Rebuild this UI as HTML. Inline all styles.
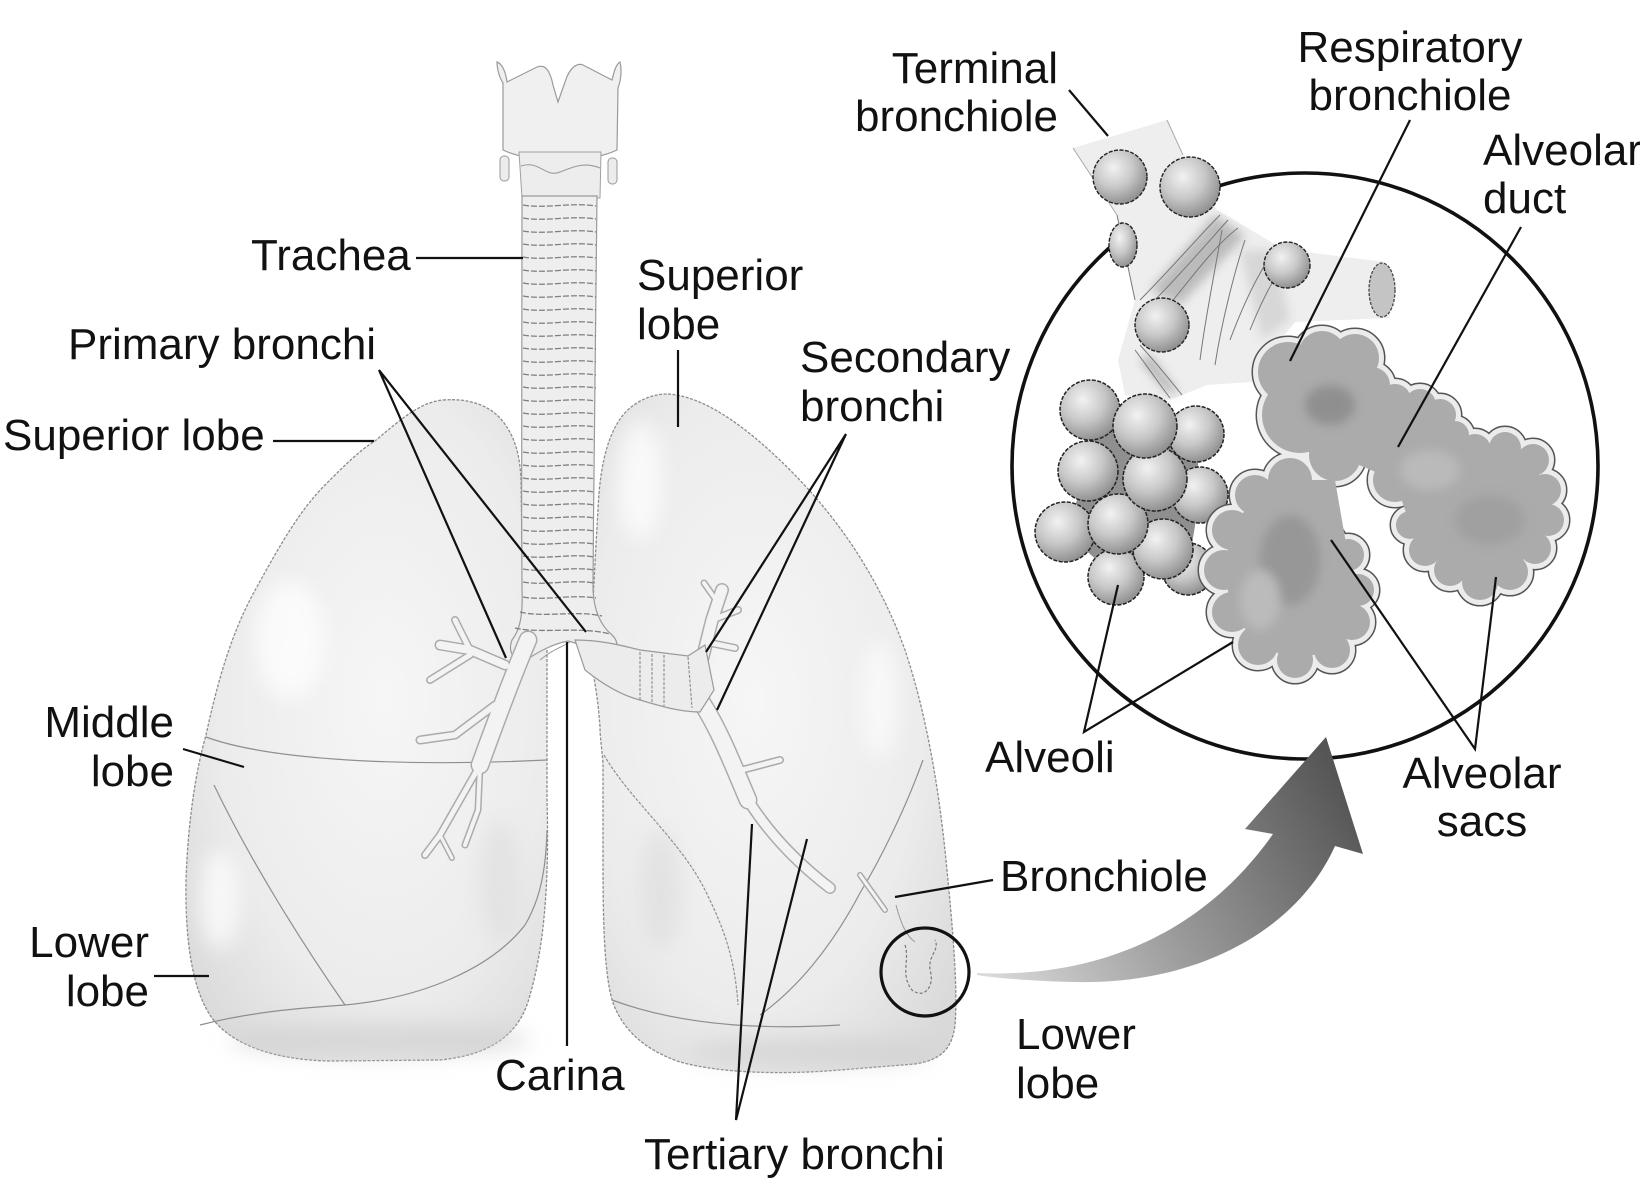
<!DOCTYPE html>
<html><head><meta charset="utf-8">
<style>
html,body{margin:0;padding:0;background:#fff;}
svg{display:block;}
text{font-family:"Liberation Sans",Arial,sans-serif;font-size:44px;fill:#111;}
</style></head><body>
<svg width="1640" height="1180" viewBox="0 0 1640 1180" xmlns="http://www.w3.org/2000/svg">
<defs>
 <radialGradient id="lungR" cx="0.55" cy="0.45" r="0.7">
  <stop offset="0" stop-color="#f6f6f6"/><stop offset="0.65" stop-color="#ececec"/><stop offset="1" stop-color="#d9d9d9"/>
 </radialGradient>
 <radialGradient id="lungL" cx="0.45" cy="0.45" r="0.7">
  <stop offset="0" stop-color="#f6f6f6"/><stop offset="0.65" stop-color="#ececec"/><stop offset="1" stop-color="#d9d9d9"/>
 </radialGradient>
 <radialGradient id="ball" cx="0.38" cy="0.33" r="0.72">
  <stop offset="0" stop-color="#f2f2f2"/><stop offset="0.5" stop-color="#c8c8c8"/><stop offset="1" stop-color="#8a8a8a"/>
 </radialGradient>
 <linearGradient id="arr" x1="977" y1="975" x2="1330" y2="760" gradientUnits="userSpaceOnUse">
  <stop offset="0" stop-color="#dcdcdc"/><stop offset="0.45" stop-color="#9c9c9c"/><stop offset="1" stop-color="#555"/>
 </linearGradient>
 <filter id="blur" x="-50%" y="-50%" width="200%" height="200%"><feGaussianBlur stdDeviation="10"/></filter>
 <filter id="blur2" x="-50%" y="-50%" width="200%" height="200%"><feGaussianBlur stdDeviation="5"/></filter>
 <g id="sac">
  <circle cx="1288" cy="372" r="30"/><circle cx="1322" cy="355" r="24"/><circle cx="1355" cy="358" r="24"/>
  <circle cx="1372" cy="385" r="18"/><circle cx="1300" cy="415" r="38"/><circle cx="1345" cy="420" r="32"/>
  <circle cx="1395" cy="400" r="16"/><circle cx="1420" cy="405" r="16"/><circle cx="1440" cy="415" r="16"/>
  <circle cx="1455" cy="435" r="14"/>
  <circle cx="1395" cy="440" r="30"/><circle cx="1430" cy="455" r="28"/><circle cx="1335" cy="455" r="26"/>
  <circle cx="1475" cy="450" r="16"/><circle cx="1505" cy="448" r="16"/><circle cx="1533" cy="460" r="16"/>
  <circle cx="1545" cy="490" r="16"/><circle cx="1548" cy="520" r="16"/><circle cx="1535" cy="548" r="16"/>
  <circle cx="1510" cy="572" r="18"/><circle cx="1480" cy="582" r="18"/><circle cx="1450" cy="570" r="16"/>
  <circle cx="1425" cy="550" r="16"/><circle cx="1410" cy="525" r="14"/><circle cx="1490" cy="510" r="40"/>
  <circle cx="1450" cy="500" r="35"/><circle cx="1395" cy="480" r="22"/>
  <circle cx="1290" cy="565" r="58"/><circle cx="1255" cy="495" r="20"/><circle cx="1232" cy="530" r="20"/>
  <circle cx="1224" cy="570" r="20"/><circle cx="1232" cy="612" r="20"/><circle cx="1258" cy="645" r="20"/>
  <circle cx="1295" cy="660" r="18"/><circle cx="1332" cy="650" r="18"/><circle cx="1352" cy="622" r="18"/>
  <circle cx="1358" cy="590" r="16"/><circle cx="1348" cy="555" r="16"/><circle cx="1290" cy="480" r="22"/>
 </g>
</defs>

<!-- ===== Lungs ===== -->
<path d="M 443 400 C 468 398, 488 405, 500 418 C 515 435, 520 455, 521 480 L 523 613 C 530 628, 545 640, 547 650 L 547 800 C 549 870, 546 940, 530 995 C 520 1035, 490 1055, 440 1060 L 330 1061 C 275 1060, 232 1045, 212 1018 C 192 990, 185 940, 186 880 C 188 820, 196 770, 206 735 C 218 680, 232 630, 258 585 C 280 545, 300 510, 325 485 C 345 465, 360 450, 375 441 C 400 420, 420 402, 443 400 Z" fill="url(#lungR)" stroke="#8c8c8c" stroke-width="1.3" stroke-dasharray="3 1.5"/>
<path d="M 668 394 C 700 396, 740 420, 790 470 C 840 520, 880 580, 905 650 C 925 710, 938 780, 946 860 C 953 930, 958 990, 955 1025 C 952 1050, 940 1060, 915 1064 L 840 1070 C 780 1075, 720 1073, 680 1062 C 645 1050, 622 1030, 612 1000 C 604 970, 603 920, 603 860 L 603 767 C 603 755, 600 740, 600 727 C 598 700, 595 680, 590 660 C 592 620, 595 560, 598 510 C 600 460, 610 425, 630 408 C 642 398, 655 394, 668 394 Z" fill="url(#lungL)" stroke="#8c8c8c" stroke-width="1.3" stroke-dasharray="3 1.5"/>

<!-- shading & highlights -->
<g filter="url(#blur)">
 <ellipse cx="380" cy="1040" rx="150" ry="16" fill="#cdcdcd" opacity="0.6"/>
 <ellipse cx="810" cy="1052" rx="120" ry="14" fill="#cdcdcd" opacity="0.6"/>
 <ellipse cx="290" cy="640" rx="35" ry="60" fill="#fff" opacity="0.7"/>
 <ellipse cx="220" cy="900" rx="20" ry="50" fill="#fff" opacity="0.7"/>
 <ellipse cx="640" cy="480" rx="22" ry="60" fill="#fff" opacity="0.7"/>
 <ellipse cx="880" cy="700" rx="18" ry="60" fill="#fff" opacity="0.6"/>
 <ellipse cx="660" cy="890" rx="20" ry="60" fill="#dadada" opacity="0.6"/>
 <ellipse cx="500" cy="880" rx="20" ry="60" fill="#dadada" opacity="0.5"/>
</g>

<!-- fissures -->
<g fill="none" stroke="#8f8f8f" stroke-width="1.2">
 <path d="M 206 737 C 260 757, 380 768, 547 760"/>
 <path d="M 214 785 C 250 860, 300 940, 345 1005"/>
 <path d="M 200 1025 C 250 1012, 300 1008, 345 1005 C 420 998, 490 970, 525 925 C 540 900, 546 870, 547 830"/>
 <path d="M 604 755 C 630 800, 680 840, 705 890 C 725 930, 735 960, 738 1005" stroke-dasharray="3 1.5"/>
 <path d="M 923 760 C 905 810, 880 860, 860 893 C 830 950, 795 990, 760 1015"/>
 <path d="M 612 1000 C 680 1025, 760 1030, 840 1025"/>
</g>

<!-- ===== Larynx & trachea ===== -->
<path d="M 503 83 C 498 75, 497 66, 497 62 C 503 64, 506 74, 507 82 L 537 67 C 545 64, 550 70, 553 85 L 558 102 L 565 82 C 570 66, 578 63, 583 65 L 612 80 C 614 72, 616 64, 620 62 C 622 70, 621 80, 618 88 L 617 150 C 600 158, 580 160, 560 158 C 540 160, 520 158, 503 150 Z" fill="#f0f0f0" stroke="#9a9a9a" stroke-width="1.2"/>
<rect x="500" y="156" width="9" height="25" rx="4" fill="#ececec" stroke="#9a9a9a"/>
<rect x="608" y="158" width="9" height="26" rx="4" fill="#ececec" stroke="#9a9a9a"/>
<path d="M 519 152 L 601 152 L 600 198 L 522 198 Z" fill="#ededed" stroke="#a0a0a0"/>
<path d="M 521 166 C 540 160, 545 178, 560 172 C 575 166, 585 162, 600 168" fill="none" stroke="#999"/>
<path d="M 522 196 L 597 196 C 595 300, 594 450, 593 590 C 594 610, 600 625, 612 635 C 620 642, 618 655, 612 662 C 600 655, 585 645, 568 641 C 552 644, 538 652, 523 662 C 512 660, 508 650, 512 640 C 520 630, 523 615, 522 590 C 521 450, 522 300, 522 196 Z" fill="#eeeeee" stroke="#9a9a9a" stroke-width="1.2"/>
<g fill="none" stroke="#7f7f7f" stroke-width="1.3" stroke-dasharray="6 2">
 <path d="M 523 205 C 545 209, 572 202, 596 206"/>
 <path d="M 523 218 C 545 222, 572 215, 596 219"/>
 <path d="M 523 231 C 545 235, 572 228, 596 232"/>
 <path d="M 523 244 C 545 248, 572 241, 596 245"/>
 <path d="M 523 257 C 545 261, 572 254, 596 258"/>
 <path d="M 523 270 C 545 274, 572 267, 596 271"/>
 <path d="M 523 283 C 545 287, 572 280, 596 284"/>
 <path d="M 523 296 C 545 300, 572 293, 596 297"/>
 <path d="M 523 309 C 545 313, 572 306, 596 310"/>
 <path d="M 523 322 C 545 326, 572 319, 596 323"/>
 <path d="M 523 335 C 545 339, 572 332, 596 336"/>
 <path d="M 523 348 C 545 352, 572 345, 596 349"/>
 <path d="M 523 361 C 545 365, 572 358, 596 362"/>
 <path d="M 523 374 C 545 378, 572 371, 596 375"/>
 <path d="M 523 387 C 545 391, 572 384, 596 388"/>
 <path d="M 523 400 C 545 404, 572 397, 595 401"/>
 <path d="M 523 413 C 545 417, 572 410, 595 414"/>
 <path d="M 523 426 C 545 430, 572 423, 595 427"/>
 <path d="M 523 439 C 545 443, 572 436, 595 440"/>
 <path d="M 523 452 C 545 456, 572 449, 595 453"/>
 <path d="M 523 465 C 545 469, 572 462, 595 466"/>
 <path d="M 523 478 C 545 482, 572 475, 595 479"/>
 <path d="M 523 491 C 545 495, 572 488, 594 492"/>
 <path d="M 523 504 C 545 508, 572 501, 594 505"/>
 <path d="M 523 517 C 545 521, 572 514, 594 518"/>
 <path d="M 523 530 C 545 534, 572 527, 594 531"/>
 <path d="M 523 543 C 545 547, 572 540, 594 544"/>
 <path d="M 523 556 C 545 560, 572 553, 594 557"/>
 <path d="M 523 569 C 545 573, 572 566, 594 570"/>
 <path d="M 523 582 C 545 586, 572 579, 594 583"/>
 <path d="M 523 597 C 545 601, 572 594, 596 598"/>
 <path d="M 520 612 C 545 618, 575 610, 602 616"/>
 <path d="M 515 628 C 540 634, 580 626, 610 634"/>
</g>

<!-- ===== Bronchial trees ===== -->
<g fill="none" stroke-linecap="round" stroke-linejoin="round">
 <g stroke="#ababab">
  <path d="M 528 640 C 515 670, 500 710, 480 765" stroke-width="19"/>
  <path d="M 505 665 L 470 650 L 440 645" stroke-width="11"/>
  <path d="M 470 650 L 455 620" stroke-width="8"/>
  <path d="M 470 655 L 430 680" stroke-width="8"/>
  <path d="M 495 705 L 455 735 L 420 740" stroke-width="9"/>
  <path d="M 480 765 L 460 800 L 440 835 L 425 855" stroke-width="8"/>
  <path d="M 440 835 L 452 858" stroke-width="6"/>
  <path d="M 480 765 L 478 810 L 465 845" stroke-width="7"/>
  <path d="M 700 700 C 720 730, 735 770, 748 800" stroke-width="19"/>
  <path d="M 748 800 C 770 835, 800 865, 830 888" stroke-width="12"/>
  <path d="M 700 668 L 712 620 L 722 590" stroke-width="14"/>
  <path d="M 712 620 L 738 610" stroke-width="8"/>
  <path d="M 706 642 L 735 648" stroke-width="8"/>
  <path d="M 716 600 L 704 583" stroke-width="7"/>
  <path d="M 742 770 L 780 760" stroke-width="8"/>
  <path d="M 860 875 L 885 910" stroke-width="6"/>
 </g>
 <g stroke="#f3f3f3">
  <path d="M 528 640 C 515 670, 500 710, 480 765" stroke-width="16"/>
  <path d="M 505 665 L 470 650 L 440 645" stroke-width="8"/>
  <path d="M 470 650 L 455 620" stroke-width="5"/>
  <path d="M 470 655 L 430 680" stroke-width="5"/>
  <path d="M 495 705 L 455 735 L 420 740" stroke-width="6"/>
  <path d="M 480 765 L 460 800 L 440 835 L 425 855" stroke-width="5"/>
  <path d="M 440 835 L 452 858" stroke-width="3"/>
  <path d="M 480 765 L 478 810 L 465 845" stroke-width="4"/>
  <path d="M 700 700 C 720 730, 735 770, 748 800" stroke-width="16"/>
  <path d="M 748 800 C 770 835, 800 865, 830 888" stroke-width="9"/>
  <path d="M 700 668 L 712 620 L 722 590" stroke-width="11"/>
  <path d="M 712 620 L 738 610" stroke-width="5"/>
  <path d="M 706 642 L 735 648" stroke-width="5"/>
  <path d="M 716 600 L 704 583" stroke-width="4"/>
  <path d="M 742 770 L 780 760" stroke-width="5"/>
  <path d="M 860 875 L 885 910" stroke-width="3"/>
 </g>
</g>
<!-- left main bronchus -->
<path d="M 575 640 C 600 640, 620 645, 640 650 L 688 656 L 705 645 L 714 690 L 700 712 C 680 712, 660 706, 640 700 C 620 695, 600 682, 585 670 Z" fill="#ececec" stroke="#9a9a9a" stroke-width="1.2"/>
<g fill="none" stroke="#8a8a8a" stroke-width="1.1" stroke-dasharray="3 1.5">
 <path d="M 640 652 L 640 700"/><path d="M 652 654 L 652 703"/><path d="M 664 655 L 664 706"/><path d="M 688 657 L 692 708"/>
</g>
<path d="M 570 642 C 560 648, 552 650, 540 660" fill="none" stroke="#9a9a9a"/>

<!-- small circle and bronchiole squiggle -->
<path d="M 905 945 C 910 960, 900 975, 912 990 C 925 1000, 935 985, 930 970 C 928 955, 940 950, 935 940" fill="none" stroke="#777" stroke-width="1.2" stroke-dasharray="3 2"/>
<path d="M 896 905 C 900 920, 905 935, 915 942" fill="none" stroke="#999" stroke-width="1"/>
<circle cx="925" cy="972" r="44" fill="none" stroke="#111" stroke-width="3.2"/>

<!-- ===== Magnified view ===== -->
<circle cx="1305" cy="466" r="293" fill="none" stroke="#111" stroke-width="3.6"/>

<!-- stem -->
<path d="M 1073 148 L 1167 120 L 1183 155 L 1217 210 L 1273 243 L 1290 250 L 1385 262 L 1390 318 L 1295 322 L 1262 362 L 1252 382 L 1207 385 L 1170 400 L 1125 395 L 1118 360 L 1135 300 L 1117 215 Z" fill="#eeeeee"/>
<path d="M 1073 148 L 1117 215 M 1167 120 L 1183 155" fill="none" stroke="#aaa" stroke-width="1"/>
<path d="M 1150 290 L 1215 215 L 1245 236 L 1180 305 Z" fill="#9a9a9a" opacity="0.6" filter="url(#blur2)"/>
<path d="M 1140 360 L 1165 390 L 1180 395 L 1150 355 Z" fill="#888" opacity="0.6" filter="url(#blur2)"/>
<path d="M 1240 250 L 1275 250 L 1290 320 L 1262 340 Z" fill="#c8c8c8" opacity="0.6" filter="url(#blur2)"/>
<g fill="none" stroke="#777" stroke-width="1">
 <path d="M 1140 300 C 1170 270, 1200 235, 1220 215"/>
 <path d="M 1150 305 C 1180 275, 1210 240, 1228 220"/>
 <path d="M 1165 310 C 1190 280, 1215 245, 1238 228"/>
 <path d="M 1200 360 C 1205 320, 1215 270, 1222 230"/>
 <path d="M 1215 365 C 1222 320, 1235 270, 1245 240"/>
 <path d="M 1230 340 C 1245 300, 1260 270, 1275 250"/>
 <path d="M 1250 330 C 1262 300, 1275 275, 1290 255"/>
 <path d="M 1135 350 C 1150 370, 1160 385, 1170 398"/>
 <path d="M 1140 345 C 1158 365, 1170 380, 1182 395"/>
 <path d="M 1117 215 L 1135 300"/>
</g>
<ellipse cx="1382" cy="290" rx="13" ry="27" fill="#c4c4c4" stroke="#444" stroke-width="1.3" stroke-dasharray="3 1.5"/>

<!-- stem balls -->
<g fill="url(#ball)" stroke="#222" stroke-width="1.4" stroke-dasharray="4 1.5">
 <ellipse cx="1123" cy="245" rx="14" ry="22"/>
 <circle cx="1120" cy="177" r="27"/>
 <circle cx="1190" cy="187" r="30"/>
 <circle cx="1287" cy="265" r="23"/>
 <circle cx="1162" cy="325" r="27"/>
</g>

<!-- grape cluster -->
<polygon points="1090,410 1145,426 1196,434 1200,495 1188,569 1116,577 1065,532 1088,471" fill="#8f8f8f"/>
<g fill="url(#ball)" stroke="#222" stroke-width="1.5" stroke-dasharray="4 1.5">
 <circle cx="1188" cy="569" r="26"/>
 <circle cx="1116" cy="577" r="28"/>
 <circle cx="1163" cy="549" r="30"/>
 <circle cx="1065" cy="532" r="30"/>
 <circle cx="1118" cy="524" r="30"/>
 <circle cx="1200" cy="495" r="28"/>
 <circle cx="1088" cy="471" r="30"/>
 <circle cx="1155" cy="479" r="32"/>
 <circle cx="1196" cy="434" r="28"/>
 <circle cx="1090" cy="410" r="30"/>
 <circle cx="1145" cy="426" r="32"/>
</g>

<!-- alveolar sacs -->
<use href="#sac" fill="#555" stroke="#555" stroke-width="13"/>
<use href="#sac" fill="#ececec" stroke="#ececec" stroke-width="10"/>
<use href="#sac" fill="#ababab" stroke="none"/>
<polygon points="1288,372 1322,355 1355,358 1372,385 1395,400 1420,405 1440,415 1455,435 1475,450 1505,448 1533,460 1545,490 1548,520 1535,548 1510,572 1480,582 1450,570 1425,550 1410,525 1395,480 1335,455 1300,415" fill="#ababab"/>
<polygon points="1290,480 1255,495 1232,530 1224,570 1232,612 1258,645 1295,660 1332,650 1352,622 1358,590 1348,555 1335,480" fill="#ababab"/>
<g filter="url(#blur2)" opacity="0.6">
 <ellipse cx="1330" cy="405" rx="25" ry="20" fill="#7e7e7e"/>
 <ellipse cx="1290" cy="560" rx="30" ry="45" fill="#8a8a8a"/>
 <ellipse cx="1490" cy="520" rx="35" ry="25" fill="#999"/>
 <ellipse cx="1430" cy="470" rx="30" ry="20" fill="#c4c4c4"/>
 <ellipse cx="1260" cy="600" rx="20" ry="30" fill="#c6c6c6"/>
</g>

<!-- big arrow -->
<path d="M 977 973 C 1080 978, 1195 945, 1273 834 L 1245 829 L 1326 737 L 1363 854 L 1335 846 C 1295 935, 1190 985, 1075 982 C 1030 981, 995 978, 977 975 Z" fill="url(#arr)"/>

<!-- ===== Leader lines ===== -->
<g stroke="#111" stroke-width="2.2" fill="none">
 <line x1="1069" y1="90" x2="1108" y2="136"/>
 <line x1="1410" y1="120" x2="1290" y2="361"/>
 <line x1="1521" y1="227" x2="1398" y2="447"/>
 <line x1="416" y1="258" x2="523" y2="258"/>
 <line x1="678" y1="350" x2="678" y2="427"/>
 <polyline points="506,658 379,370 586,632"/>
 <line x1="273" y1="441" x2="374" y2="441"/>
 <polyline points="706,652 846,434 717,710"/>
 <line x1="183" y1="749" x2="244" y2="767"/>
 <line x1="154" y1="976" x2="209" y2="976"/>
 <line x1="567" y1="642" x2="567" y2="1046"/>
 <polyline points="752,824 736,1120 807,839"/>
 <line x1="993" y1="880" x2="895" y2="897"/>
 <polyline points="1118,585 1084,732 1233,642"/>
 <polyline points="1331,540 1475,749 1496,577"/>
</g>

<!-- ===== Labels ===== -->
<text x="1058" y="83" text-anchor="end">Terminal</text>
<text x="1058" y="131" text-anchor="end">bronchiole</text>
<text x="1410" y="62" text-anchor="middle">Respiratory</text>
<text x="1410" y="110" text-anchor="middle">bronchiole</text>
<text x="1483" y="165">Alveolar</text>
<text x="1483" y="213">duct</text>
<text x="251" y="270">Trachea</text>
<text x="637" y="290">Superior</text>
<text x="637" y="339">lobe</text>
<text x="68" y="359">Primary bronchi</text>
<text x="3" y="450">Superior lobe</text>
<text x="800" y="372">Secondary</text>
<text x="800" y="421">bronchi</text>
<text x="174" y="737" text-anchor="end">Middle</text>
<text x="174" y="786" text-anchor="end">lobe</text>
<text x="149" y="957" text-anchor="end">Lower</text>
<text x="149" y="1006" text-anchor="end">lobe</text>
<text x="495" y="1090">Carina</text>
<text x="644" y="1169">Tertiary bronchi</text>
<text x="1000" y="891">Bronchiole</text>
<text x="1016" y="1049">Lower</text>
<text x="1016" y="1098">lobe</text>
<text x="985" y="772">Alveoli</text>
<text x="1482" y="788" text-anchor="middle">Alveolar</text>
<text x="1482" y="836" text-anchor="middle">sacs</text>
</svg>
</body></html>
